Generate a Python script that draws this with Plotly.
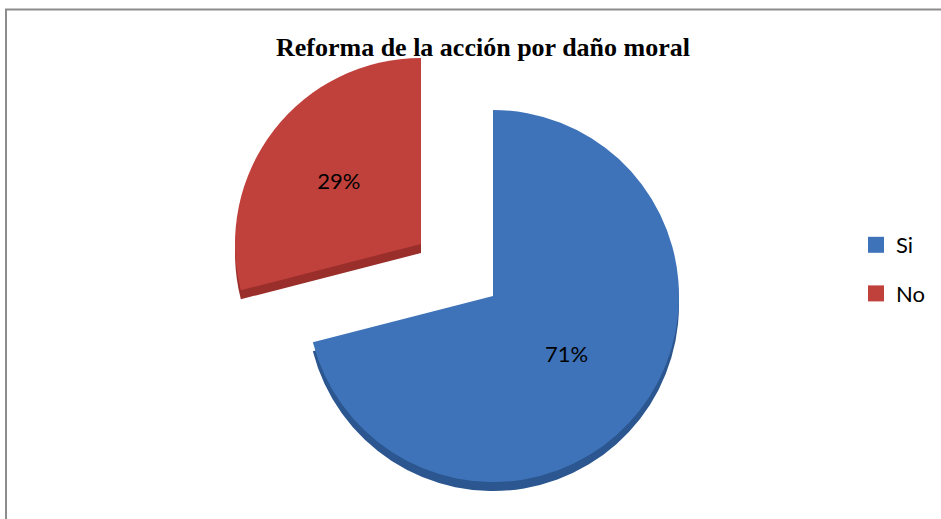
import plotly.graph_objects as go

W, H = 941, 519

labels = ["Si", "No"]
values = [71, 29]
top_colors = ["#3e73b9", "#c0403c"]
side_colors = ["#2b568f", "#992e2b"]
title_text = "Reforma de la acción por daño moral"

CLEAR = "rgba(0,0,0,0)"
R = 186          # pie radius in px
DEPTH = 9        # fake 3D thickness in px
centers = [(493, 298), (421, 246)]   # apex of each slice (px)


def dom(cx, cy, r):
    return dict(x=[(cx - r) / W, (cx + r) / W],
                y=[1 - (cy + r) / H, 1 - (cy - r) / H])


fig = go.Figure()

# side (depth) layers
for i in range(2):
    cols = [CLEAR, CLEAR]
    cols[i] = side_colors[i]
    cx, cy = centers[i]
    fig.add_trace(go.Pie(
        labels=labels, values=values, sort=False, direction="clockwise",
        rotation=0, marker=dict(colors=cols, line=dict(width=0)),
        textinfo="none", hoverinfo="skip", showlegend=False,
        domain=dom(cx, cy + DEPTH - 2, R)))

# top layers
for i in range(2):
    cols = [CLEAR, CLEAR]
    cols[i] = top_colors[i]
    tt = ["", ""]
    tt[i] = "%{percent}"
    cx, cy = centers[i]
    fig.add_trace(go.Pie(
        labels=labels, values=values, sort=False, direction="clockwise",
        rotation=0, marker=dict(colors=cols, line=dict(width=0)),
        texttemplate=tt, textposition="inside", insidetextorientation="horizontal",
        insidetextfont=dict(family="Lato", size=22, color="black"),
        showlegend=False,
        domain=dom(cx, cy - 2, R)))

# legend entries
for i in range(2):
    fig.add_trace(go.Scatter(
        x=[None], y=[None], mode="markers", name=labels[i],
        legendgroup=labels[i],
        marker=dict(symbol="square", size=16, color=top_colors[i])))

fig.update_layout(
    width=W, height=H, autosize=False,
    margin=dict(l=0, r=0, t=0, b=0),
    paper_bgcolor="white", plot_bgcolor="white",
    xaxis=dict(visible=False), yaxis=dict(visible=False),
    title=dict(text="<b>" + title_text + "</b>", x=483 / W, xanchor="center",
               y=1 - 47 / H, yanchor="middle", yref="container",
               font=dict(family="Liberation Serif", size=26, color="black")),
    legend=dict(x=856 / W, y=1 - 224 / H, xanchor="left", yanchor="top",
                font=dict(family="Lato", size=22, color="black"),
                traceorder="grouped", tracegroupgap=17,
                bgcolor="rgba(0,0,0,0)", itemwidth=30),
    shapes=[dict(type="rect", xref="paper", yref="paper",
                 x0=6 / W, x1=1.02, y0=-0.02, y1=1 - 9.5 / H,
                 line=dict(color="#8c8c8c", width=2), layer="below")],
)

fig.write_html("out.html", config={"displayModeBar": False},
               post_script="document.body.style.margin='0';")
